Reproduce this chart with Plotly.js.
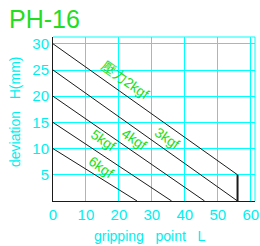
<!DOCTYPE html>
<html>
<head>
<meta charset="utf-8">
<script src="https://cdn.plot.ly/plotly-3.0.1.min.js"></script>
<style>html,body{margin:0;padding:0;background:#fff;}#chart{width:260px;height:246px;}</style>
</head>
<body>
<div id="chart"></div>
<script>
// Data
var forceLabels = ["壓力2kgf", "3kgf", "4kgf", "5kgf", "6kgf"];
var line2kgfX = [0, 56];
var line2kgfY = [30, 5];
var line3kgfX = [0, 56];
var line3kgfY = [25, 0];
var line4kgfX = [0, 46];
var line4kgfY = [20, 0];
var line5kgfX = [0, 36];
var line5kgfY = [15, 0];
var line6kgfX = [0, 25.5];
var line6kgfY = [10, 0];
var endX = [56, 56];
var endY = [5, 0];
var labelX = [21.9, 34.6, 24.6, 15.2, 14.6];
var labelY = [23.1, 12.0, 11.8, 11.6, 6.5];
var xTicks = [0, 10, 20, 30, 40, 50, 60];
var yTicks = [5, 10, 15, 20, 25, 30];
var titleText = "PH-16";
var xTitle = "gripping&nbsp;&nbsp;&nbsp;point&nbsp;&nbsp;&nbsp;L";
var yTitle = "deviation&nbsp;&nbsp;&nbsp;H(mm)";

var FONT = "Liberation Sans, Arial, Noto Sans CJK TC, sans-serif";
var GREEN = "#22dd22";
var CYAN = "#00f0f0";
var GRID = "#00ffff";

function lineTrace(x, y, w) {
  return {x: x, y: y, type: "scatter", mode: "lines", line: {color: "#1a1a1a", width: w || 1}, hoverinfo: "skip", showlegend: false};
}

var traces = [
  lineTrace(line2kgfX, line2kgfY),
  lineTrace(line3kgfX, line3kgfY),
  lineTrace(line4kgfX, line4kgfY),
  lineTrace(line5kgfX, line5kgfY),
  lineTrace(line6kgfX, line6kgfY),
  lineTrace(endX, endY, 2)
];

var annotations = forceLabels.map(function (t, i) {
  return {x: labelX[i], y: labelY[i], xref: "x", yref: "y", text: t, showarrow: false,
    textangle: 35, font: {family: FONT, size: 14, color: GREEN}, xanchor: "center", yanchor: "middle"};
});
annotations.push({x: (150 - 53) / 202, y: (201 - 236) / 164, xref: "paper", yref: "paper", text: xTitle,
  showarrow: false, font: {family: FONT, size: 14, color: CYAN}, xanchor: "center", yanchor: "middle"});
annotations.push({x: (15 - 53) / 202, y: (201 - 112) / 164, xref: "paper", yref: "paper", text: yTitle,
  showarrow: false, textangle: -90, font: {family: FONT, size: 14, color: CYAN}, xanchor: "center", yanchor: "middle"});
annotations.push({x: (7 - 53) / 202, y: (201 - 19) / 164, xref: "paper", yref: "paper", text: titleText,
  showarrow: false, font: {family: FONT, size: 25, color: GREEN}, xanchor: "left", yanchor: "middle"});

var layout = {
  width: 260, height: 246,
  margin: {l: 53, r: 5, t: 37, b: 45, pad: 0},
  paper_bgcolor: "#ffffff", plot_bgcolor: "#ffffff",
  showlegend: false,
  xaxis: {range: [0, 61.3], tickvals: xTicks, ticktext: xTicks.map(String), showgrid: true, gridcolor: GRID, gridwidth: 1,
    zeroline: false, showline: true, linecolor: "#1a1a1a", linewidth: 1, ticks: "",
    tickfont: {family: FONT, size: 15, color: CYAN}, fixedrange: true},
  yaxis: {range: [0, 31.3], tickvals: yTicks, ticktext: yTicks.map(String), showgrid: true, gridcolor: GRID, gridwidth: 1,
    zeroline: false, showline: true, linecolor: "#1a1a1a", linewidth: 1, ticks: "",
    tickfont: {family: FONT, size: 15, color: CYAN}, fixedrange: true},
  shapes: [
    {type: "line", xref: "paper", yref: "paper", x0: 0, x1: 1, y0: 1, y1: 1, line: {color: GRID, width: 1}},
    {type: "line", xref: "paper", yref: "paper", x0: 1, x1: 1, y0: 0, y1: 1, line: {color: GRID, width: 1}}
  ],
  annotations: annotations
};

Plotly.newPlot("chart", traces, layout, {displayModeBar: false, staticPlot: true});
</script>
</body>
</html>
